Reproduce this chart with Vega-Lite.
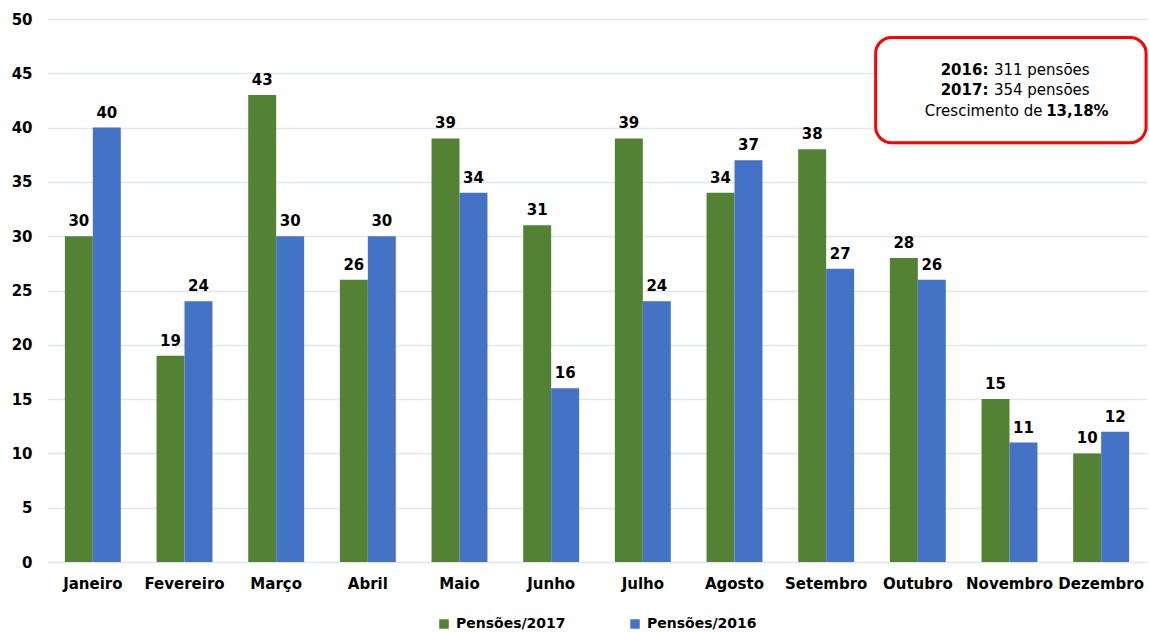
{
  "$schema": "https://vega.github.io/schema/vega-lite/v6.json",
  "width": 1100,
  "height": 543,
  "autosize": {"type": "none"},
  "padding": {"left": 47, "top": 19, "right": 2, "bottom": 70},
  "config": {"view": {"stroke": null}, "font": "DejaVu Sans"},
  "datasets": {
    "pensoes": [
      {"mes": "Janeiro", "serie": "Pensões/2017", "valor": 30},
      {"mes": "Janeiro", "serie": "Pensões/2016", "valor": 40},
      {"mes": "Fevereiro", "serie": "Pensões/2017", "valor": 19},
      {"mes": "Fevereiro", "serie": "Pensões/2016", "valor": 24},
      {"mes": "Março", "serie": "Pensões/2017", "valor": 43},
      {"mes": "Março", "serie": "Pensões/2016", "valor": 30},
      {"mes": "Abril", "serie": "Pensões/2017", "valor": 26},
      {"mes": "Abril", "serie": "Pensões/2016", "valor": 30},
      {"mes": "Maio", "serie": "Pensões/2017", "valor": 39},
      {"mes": "Maio", "serie": "Pensões/2016", "valor": 34},
      {"mes": "Junho", "serie": "Pensões/2017", "valor": 31},
      {"mes": "Junho", "serie": "Pensões/2016", "valor": 16},
      {"mes": "Julho", "serie": "Pensões/2017", "valor": 39},
      {"mes": "Julho", "serie": "Pensões/2016", "valor": 24},
      {"mes": "Agosto", "serie": "Pensões/2017", "valor": 34},
      {"mes": "Agosto", "serie": "Pensões/2016", "valor": 37},
      {"mes": "Setembro", "serie": "Pensões/2017", "valor": 38},
      {"mes": "Setembro", "serie": "Pensões/2016", "valor": 27},
      {"mes": "Outubro", "serie": "Pensões/2017", "valor": 28},
      {"mes": "Outubro", "serie": "Pensões/2016", "valor": 26},
      {"mes": "Novembro", "serie": "Pensões/2017", "valor": 15},
      {"mes": "Novembro", "serie": "Pensões/2016", "valor": 11},
      {"mes": "Dezembro", "serie": "Pensões/2017", "valor": 10},
      {"mes": "Dezembro", "serie": "Pensões/2016", "valor": 12}
    ]
  },
  "layer": [
    {
      "data": {"name": "pensoes"},
      "encoding": {
        "x": {
          "field": "mes",
          "type": "nominal",
          "sort": ["Janeiro", "Fevereiro", "Março", "Abril", "Maio", "Junho", "Julho", "Agosto", "Setembro", "Outubro", "Novembro", "Dezembro"],
          "scale": {"paddingInner": 0.39, "paddingOuter": 0.195},
          "axis": {"title": null, "labelAngle": 0, "ticks": false, "domain": false, "labelFontSize": 15, "labelFontWeight": "bold", "labelColor": "#000000", "labelPadding": 14}
        },
        "xOffset": {"field": "serie", "type": "nominal", "sort": ["Pensões/2017", "Pensões/2016"]},
        "y": {
          "field": "valor",
          "type": "quantitative",
          "scale": {"domain": [0, 50]},
          "axis": {"title": null, "values": [0, 5, 10, 15, 20, 25, 30, 35, 40, 45, 50], "grid": true, "gridColor": "#e1e5ec", "gridWidth": 1.5, "domain": false, "ticks": false, "labelFontSize": 15, "labelFontWeight": "bold", "labelColor": "#000000", "labelPadding": 15}
        }
      },
      "layer": [
        {
          "mark": {"type": "bar"},
          "encoding": {
            "color": {
              "field": "serie",
              "type": "nominal",
              "scale": {"domain": ["Pensões/2017", "Pensões/2016"], "range": ["#548235", "#4472C4"]},
              "legend": {"title": null, "orient": "none", "legendX": 390, "legendY": 598, "direction": "horizontal", "symbolType": "square", "symbolSize": 90, "symbolStrokeWidth": 0, "symbolOpacity": 1, "labelFontSize": 14, "labelFontWeight": "bold", "labelColor": "#000000", "columnPadding": 62, "labelOffset": 5}
            }
          }
        },
        {
          "mark": {"type": "text", "baseline": "bottom", "dy": -7, "fontSize": 15, "fontWeight": "bold", "color": "#000000"},
          "encoding": {"text": {"field": "valor", "type": "quantitative"}}
        }
      ]
    },
    {
      "data": {"values": [{"x1": 9.04, "x2": 11.99, "y1": 38.6, "y2": 48.3}]},
      "mark": {"type": "rect", "fill": "#ffffff", "stroke": "#ff0000", "strokeWidth": 3, "cornerRadius": 16},
      "encoding": {
        "x": {"field": "x1", "type": "quantitative", "scale": {"domain": [0, 12]}, "axis": null},
        "x2": {"field": "x2"},
        "y": {"field": "y1", "type": "quantitative", "title": null},
        "y2": {"field": "y2"}
      }
    },
    {
      "data": {"values": [{"tx": 10.27, "ty": 45.3, "t": "2016:"}, {"tx": 10.27, "ty": 43.45, "t": "2017:"}]},
      "mark": {"type": "text", "align": "right", "baseline": "middle", "fontSize": 15, "fontWeight": "bold", "color": "#000000"},
      "encoding": {
        "x": {"field": "tx", "type": "quantitative", "scale": {"domain": [0, 12]}, "axis": null},
        "y": {"field": "ty", "type": "quantitative", "title": null},
        "text": {"field": "t"}
      }
    },
    {
      "data": {"values": [{"tx": 10.9, "ty": 41.5, "t": "13,18%"}]},
      "mark": {"type": "text", "align": "left", "baseline": "middle", "fontSize": 15, "fontWeight": "bold", "color": "#000000"},
      "encoding": {
        "x": {"field": "tx", "type": "quantitative", "scale": {"domain": [0, 12]}, "axis": null},
        "y": {"field": "ty", "type": "quantitative", "title": null},
        "text": {"field": "t"}
      }
    },
    {
      "data": {"values": [{"tx": 10.33, "ty": 45.3, "t": "311 pensões"}, {"tx": 10.33, "ty": 43.45, "t": "354 pensões"}]},
      "mark": {"type": "text", "align": "left", "baseline": "middle", "fontSize": 15, "color": "#000000"},
      "encoding": {
        "x": {"field": "tx", "type": "quantitative", "scale": {"domain": [0, 12]}, "axis": null},
        "y": {"field": "ty", "type": "quantitative", "title": null},
        "text": {"field": "t"}
      }
    },
    {
      "data": {"values": [{"tx": 10.86, "ty": 41.5, "t": "Crescimento de"}]},
      "mark": {"type": "text", "align": "right", "baseline": "middle", "fontSize": 15, "color": "#000000"},
      "encoding": {
        "x": {"field": "tx", "type": "quantitative", "scale": {"domain": [0, 12]}, "axis": null},
        "y": {"field": "ty", "type": "quantitative", "title": null},
        "text": {"field": "t"}
      }
    }
  ],
  "resolve": {"scale": {"x": "independent"}}
}
